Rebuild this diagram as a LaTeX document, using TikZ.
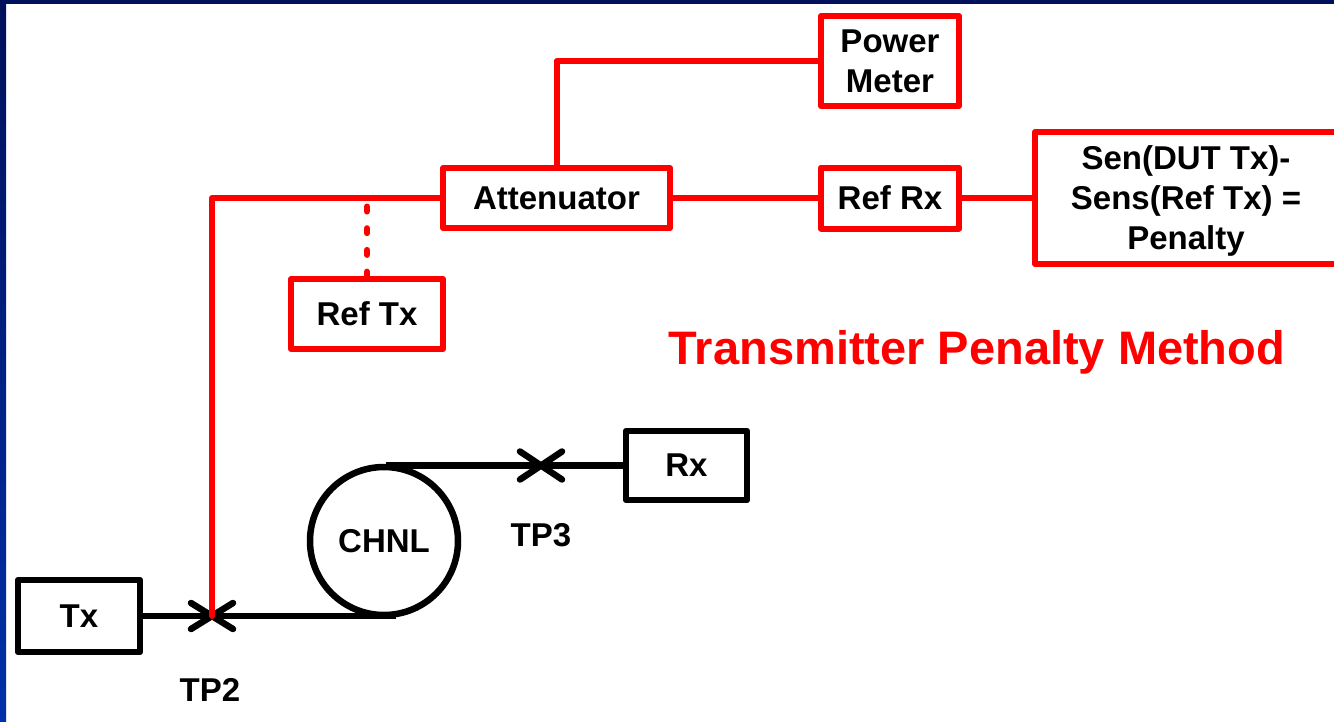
\documentclass[tikz,border=0pt]{standalone}
\usepackage{fontspec}
\setmainfont{Liberation Sans}
\definecolor{navy}{RGB}{0,16,90}
\definecolor{slideblue}{RGB}{0,48,170}
\begin{document}
\begin{tikzpicture}[x=1pt,y=-1pt,
  boxfont/.style={font=\fontsize{33}{40}\selectfont\bfseries},
  redbox/.style={draw=red, line width=6pt, line join=round, boxfont, align=center, inner sep=0pt},
  blkbox/.style={draw=black, line width=6.5pt, line join=round, boxfont, inner sep=0pt},
  redline/.style={draw=red, line width=6pt, line join=round},
  blkline/.style={draw=black, line width=6.5pt},
  tpmark/.style={draw=black, line width=6.5pt, line cap=round},
  lbl/.style={boxfont, inner sep=0pt},
  dotline/.style={draw=red, line width=6pt, line cap=round, dash pattern=on 5pt off 16.7pt}
]
\fill[white] (0,0) rectangle (1334,721);
\useasboundingbox (0,0) rectangle (1334,721);
\clip (0,0) rectangle (1334,721);
\fill[navy] (0,0) rectangle (1334,4);
\shade[top color=navy, bottom color=slideblue] (0,0) rectangle (6,721);

% black part
\node[blkbox, minimum width=122pt, minimum height=72pt] (tx) at (79,616) {Tx};
\node[blkbox, circle, minimum size=148pt] (chnl) at (384,541) {CHNL};
\node[blkbox, minimum width=121pt, minimum height=69pt] (rx) at (686.5,465.5) {Rx};
\coordinate (tp2) at (212,616);
\coordinate (tp3) at (541,465.5);
\coordinate (chb) at (396,616);
\coordinate (cht) at (386,465.5);
\node[lbl] (tp2l) at (210,690) {TP2};
\node[lbl] (tp3l) at (541,535) {TP3};

\draw[blkline] (tx.east) -- (chb);
\draw[blkline] (cht) -- (rx.west);
\draw[tpmark] (tp2) ++(-21,-13) -- ++(42,26) (tp2) ++(-21,13) -- ++(42,-26);
\draw[tpmark] (tp3) ++(-21,-14) -- ++(42,28) (tp3) ++(-21,14) -- ++(42,-28);

% red part
\node[redbox, minimum width=227pt, minimum height=60pt] (att) at (556.5,198) {Attenuator};
\node[redbox, minimum width=152pt, minimum height=70pt] (reftx) at (367,314) {Ref Tx};
\node[redbox, minimum width=138pt, minimum height=90pt] (pm) at (890,61) {Power\\Meter};
\node[redbox, minimum width=138pt, minimum height=61pt] (refrx) at (890,198) {Ref Rx};
\node[redbox, minimum width=302pt, minimum height=132pt, text depth=0pt] (pen) at (1186,198) {Sen(DUT Tx)-\\Sens(Ref Tx) =\\Penalty};
\coordinate (dtop) at (367,206.5);

\draw[redline, line cap=round] (tp2) |- (att.west);
\draw[redline] (att.north) |- (pm.west);
\draw[redline] (att.east) -- (refrx.west);
\draw[redline] (refrx.east) -- (pen.west);
\draw[dotline] (dtop) -- (reftx.north);

\node[font=\fontsize{47}{56}\selectfont\bfseries, text=red, anchor=base, inner sep=0pt] (title) at (977,364) {Transmitter Penalty Method};
\end{tikzpicture}
\end{document}
